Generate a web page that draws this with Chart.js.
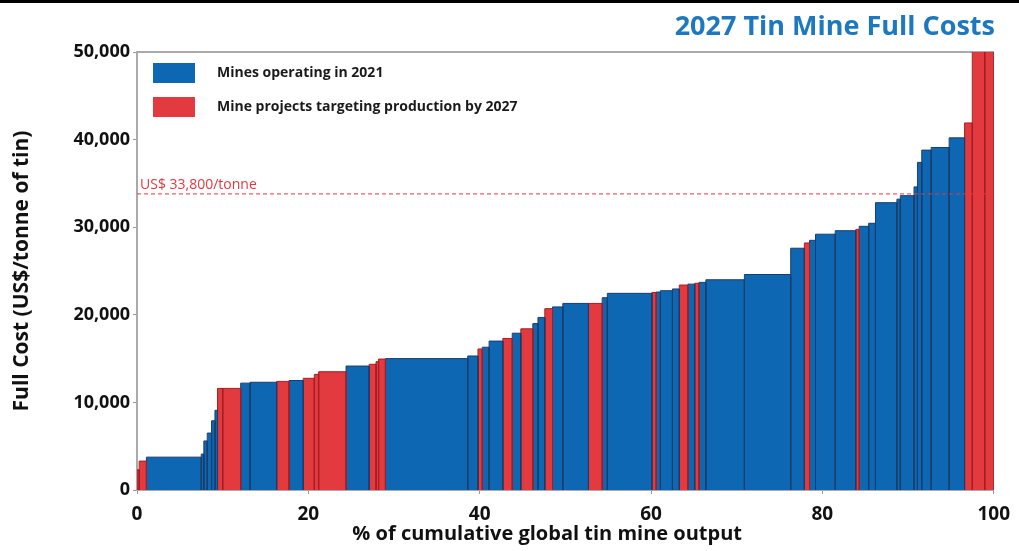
<!DOCTYPE html>
<html>
<head>
<meta charset="utf-8">
<script src="https://cdn.jsdelivr.net/npm/chart.js@4"></script>
<style>
  body { margin: 0; background: #fff; }
  #topline { position: absolute; left: 0; top: 0; width: 1019px; height: 3px; background: #000; }
</style>
</head>
<body>
<div id="topline"></div>
<canvas id="tinchart" width="1019" height="551"></canvas>
<script>
// share of global output (%) per mine, in cost order
const shares = [0.25, 0.85, 6.4, 0.3, 0.4, 0.5, 0.4, 0.3, 0.6, 2.1,
  1.1, 3.1, 1.45, 1.65, 1.3, 0.5, 3.2, 2.7, 0.8, 0.3,
  0.8, 9.6, 1.2, 0.5, 0.8, 1.6, 1.1, 1.0, 1.4, 0.6,
  0.8, 0.9, 1.2, 3.0, 1.6, 0.6, 5.2, 0.5, 0.5, 1.4,
  0.8, 1.0, 0.8, 0.5, 0.8, 4.5, 5.4, 1.6, 0.6, 0.7,
  2.3, 2.4, 0.4, 1.1, 0.8, 2.5, 0.4, 1.6, 0.4, 0.5,
  1.1, 2.1, 1.8, 0.9, 1.45, 1.05];

// full cost US$/tonne
const costs = [2300, 3300, 3750, 4100, 5600, 6500, 7900, 9100, 11600, 11600,
  12200, 12300, 12400, 12500, 12750, 13200, 13500, 14150, 14350, 14650,
  14950, 15000, 15300, 16100, 16300, 17000, 17300, 17900, 18400, 19000,
  19700, 20700, 20900, 21300, 21300, 21950, 22450, 22550, 22600, 22750,
  22950, 23400, 23500, 23600, 23700, 24000, 24600, 27600, 28200, 28500,
  29200, 29600, 29750, 30100, 30450, 32800, 33200, 33600, 34600, 37400,
  38800, 39100, 40200, 41900, 55000, 55000];

// O = operating in 2021, P = project by 2027
const status = ["P", "P", "O", "O", "O", "O", "O", "O", "P", "P",
  "O", "O", "P", "O", "P", "P", "P", "O", "P", "P",
  "P", "O", "O", "P", "O", "O", "P", "O", "P", "O",
  "O", "P", "O", "O", "P", "O", "O", "P", "O", "O",
  "O", "P", "O", "P", "O", "O", "O", "O", "P", "O",
  "O", "O", "P", "O", "O", "O", "O", "O", "O", "O",
  "O", "O", "O", "P", "P", "P"];

const legendKeys = ["O", "P"];
const legendLabels = ["Mines operating in 2021", "Mine projects targeting production by 2027"];
const priceLine = 33800;
const priceLabel = "US$ 33,800/tonne";
const xTicks = [0, 20, 40, 60, 80, 100];
const yTicks = [0, 10000, 20000, 30000, 40000, 50000];

const fillCol = { O: "#0e67b3", P: "#e23a3e" };
const edgeCol = { O: "#1b3d6a", P: "#a11f25" };
const font = "'Open Sans', sans-serif";

const datasets = [];

// dashed price line goes first so it sits on top
datasets.push({
  data: [{ x: 0, y: priceLine }, { x: 100, y: priceLine }],
  borderColor: "#e0393e",
  borderWidth: 1,
  borderDash: [4, 3],
  pointRadius: 0,
  fill: false,
  order: 0,
});

let cum = 0;
shares.forEach((s, i) => {
  const start = cum;
  const end = cum + s;
  cum = end;
  datasets.push({
    data: [
      { x: start, y: 0 },
      { x: start, y: costs[i] },
      { x: end, y: costs[i] },
      { x: end, y: 0 },
    ],
    backgroundColor: fillCol[status[i]],
    borderColor: edgeCol[status[i]],
    borderWidth: 1,
    pointRadius: 0,
    tension: 0,
    fill: "origin",
    order: 1,
  });
});

// price label above the dashed line + legend boxes inside the plot
const extras = {
  id: "extras",
  afterDraw(chart) {
    const { ctx, chartArea, scales } = chart;
    const y = scales.y.getPixelForValue(priceLine);
    ctx.save();
    ctx.font = "14px " + font;
    ctx.fillStyle = "#e0393e";
    ctx.textBaseline = "alphabetic";
    ctx.fillText(priceLabel, chartArea.left + 3, y - 5);

    ctx.font = "bold 14px " + font;
    ctx.textBaseline = "middle";
    legendKeys.forEach((k, i) => {
      const top = chartArea.top + 11 + i * 34;
      ctx.fillStyle = fillCol[k];
      ctx.fillRect(chartArea.left + 16, top, 42, 20);
      ctx.fillStyle = "#1a1a1a";
      ctx.fillText(legendLabels[i], chartArea.left + 80, top + 10);
    });
    ctx.restore();
  },
};

new Chart("tinchart", {
  type: "line",
  data: { datasets },
  plugins: [extras],
  options: {
    responsive: false,
    animation: false,
    devicePixelRatio: 1,
    layout: { padding: { left: 0, right: 24, top: 0, bottom: 0 } },
    plugins: {
      tooltip: { enabled: false },
      legend: { display: false },
      title: {
        display: true,
        text: "2027 Tin Mine Full Costs",
        align: "end",
        color: "#1d78bf",
        font: { family: font, size: 27, weight: "bold" },
        padding: { top: 11, bottom: 8.6 },
      },
    },
    scales: {
      x: {
        type: "linear",
        min: 0,
        max: 100,
        afterBuildTicks: (scale) => { scale.ticks = xTicks.map((v) => ({ value: v })); },
        afterFit: (scale) => { scale.height = 61; },
        ticks: { color: "#111", font: { family: font, size: 19, weight: "bold" }, padding: 9 },
        grid: { drawOnChartArea: false, tickLength: 4, color: "#999" },
        border: { display: true, color: "#aaa", width: 1 },
        title: {
          display: true,
          // trailing spaces nudge the centred title a bit left, like the original
          text: "% of cumulative global tin mine output       ",
          color: "#111",
          font: { family: font, size: 20, weight: "bold" },
          padding: { top: 0, bottom: 5 },
        },
      },
      x2: {
        type: "linear",
        position: "top",
        ticks: { display: false },
        grid: { display: false },
        border: { display: true, color: "#aaa", width: 2 },
        afterFit: (scale) => { scale.height = 0; },
      },
      y: {
        min: 0,
        max: 50000,
        afterBuildTicks: (scale) => { scale.ticks = yTicks.map((v) => ({ value: v })); },
        afterFit: (scale) => { scale.width = 137; },
        ticks: {
          color: "#111",
          font: { family: font, size: 18, weight: "bold" },
          callback: (v) => v.toLocaleString("en-US"),
        },
        grid: { drawOnChartArea: false, tickLength: 4, color: "#999" },
        border: { display: true, color: "#aaa", width: 2 },
        title: {
          display: true,
          text: "Full Cost (US$/tonne of tin)",
          color: "#111",
          font: { family: font, size: 21, weight: "bold" },
          padding: { top: 9, bottom: 0 },
        },
      },
    },
  },
});
</script>
</body>
</html>
